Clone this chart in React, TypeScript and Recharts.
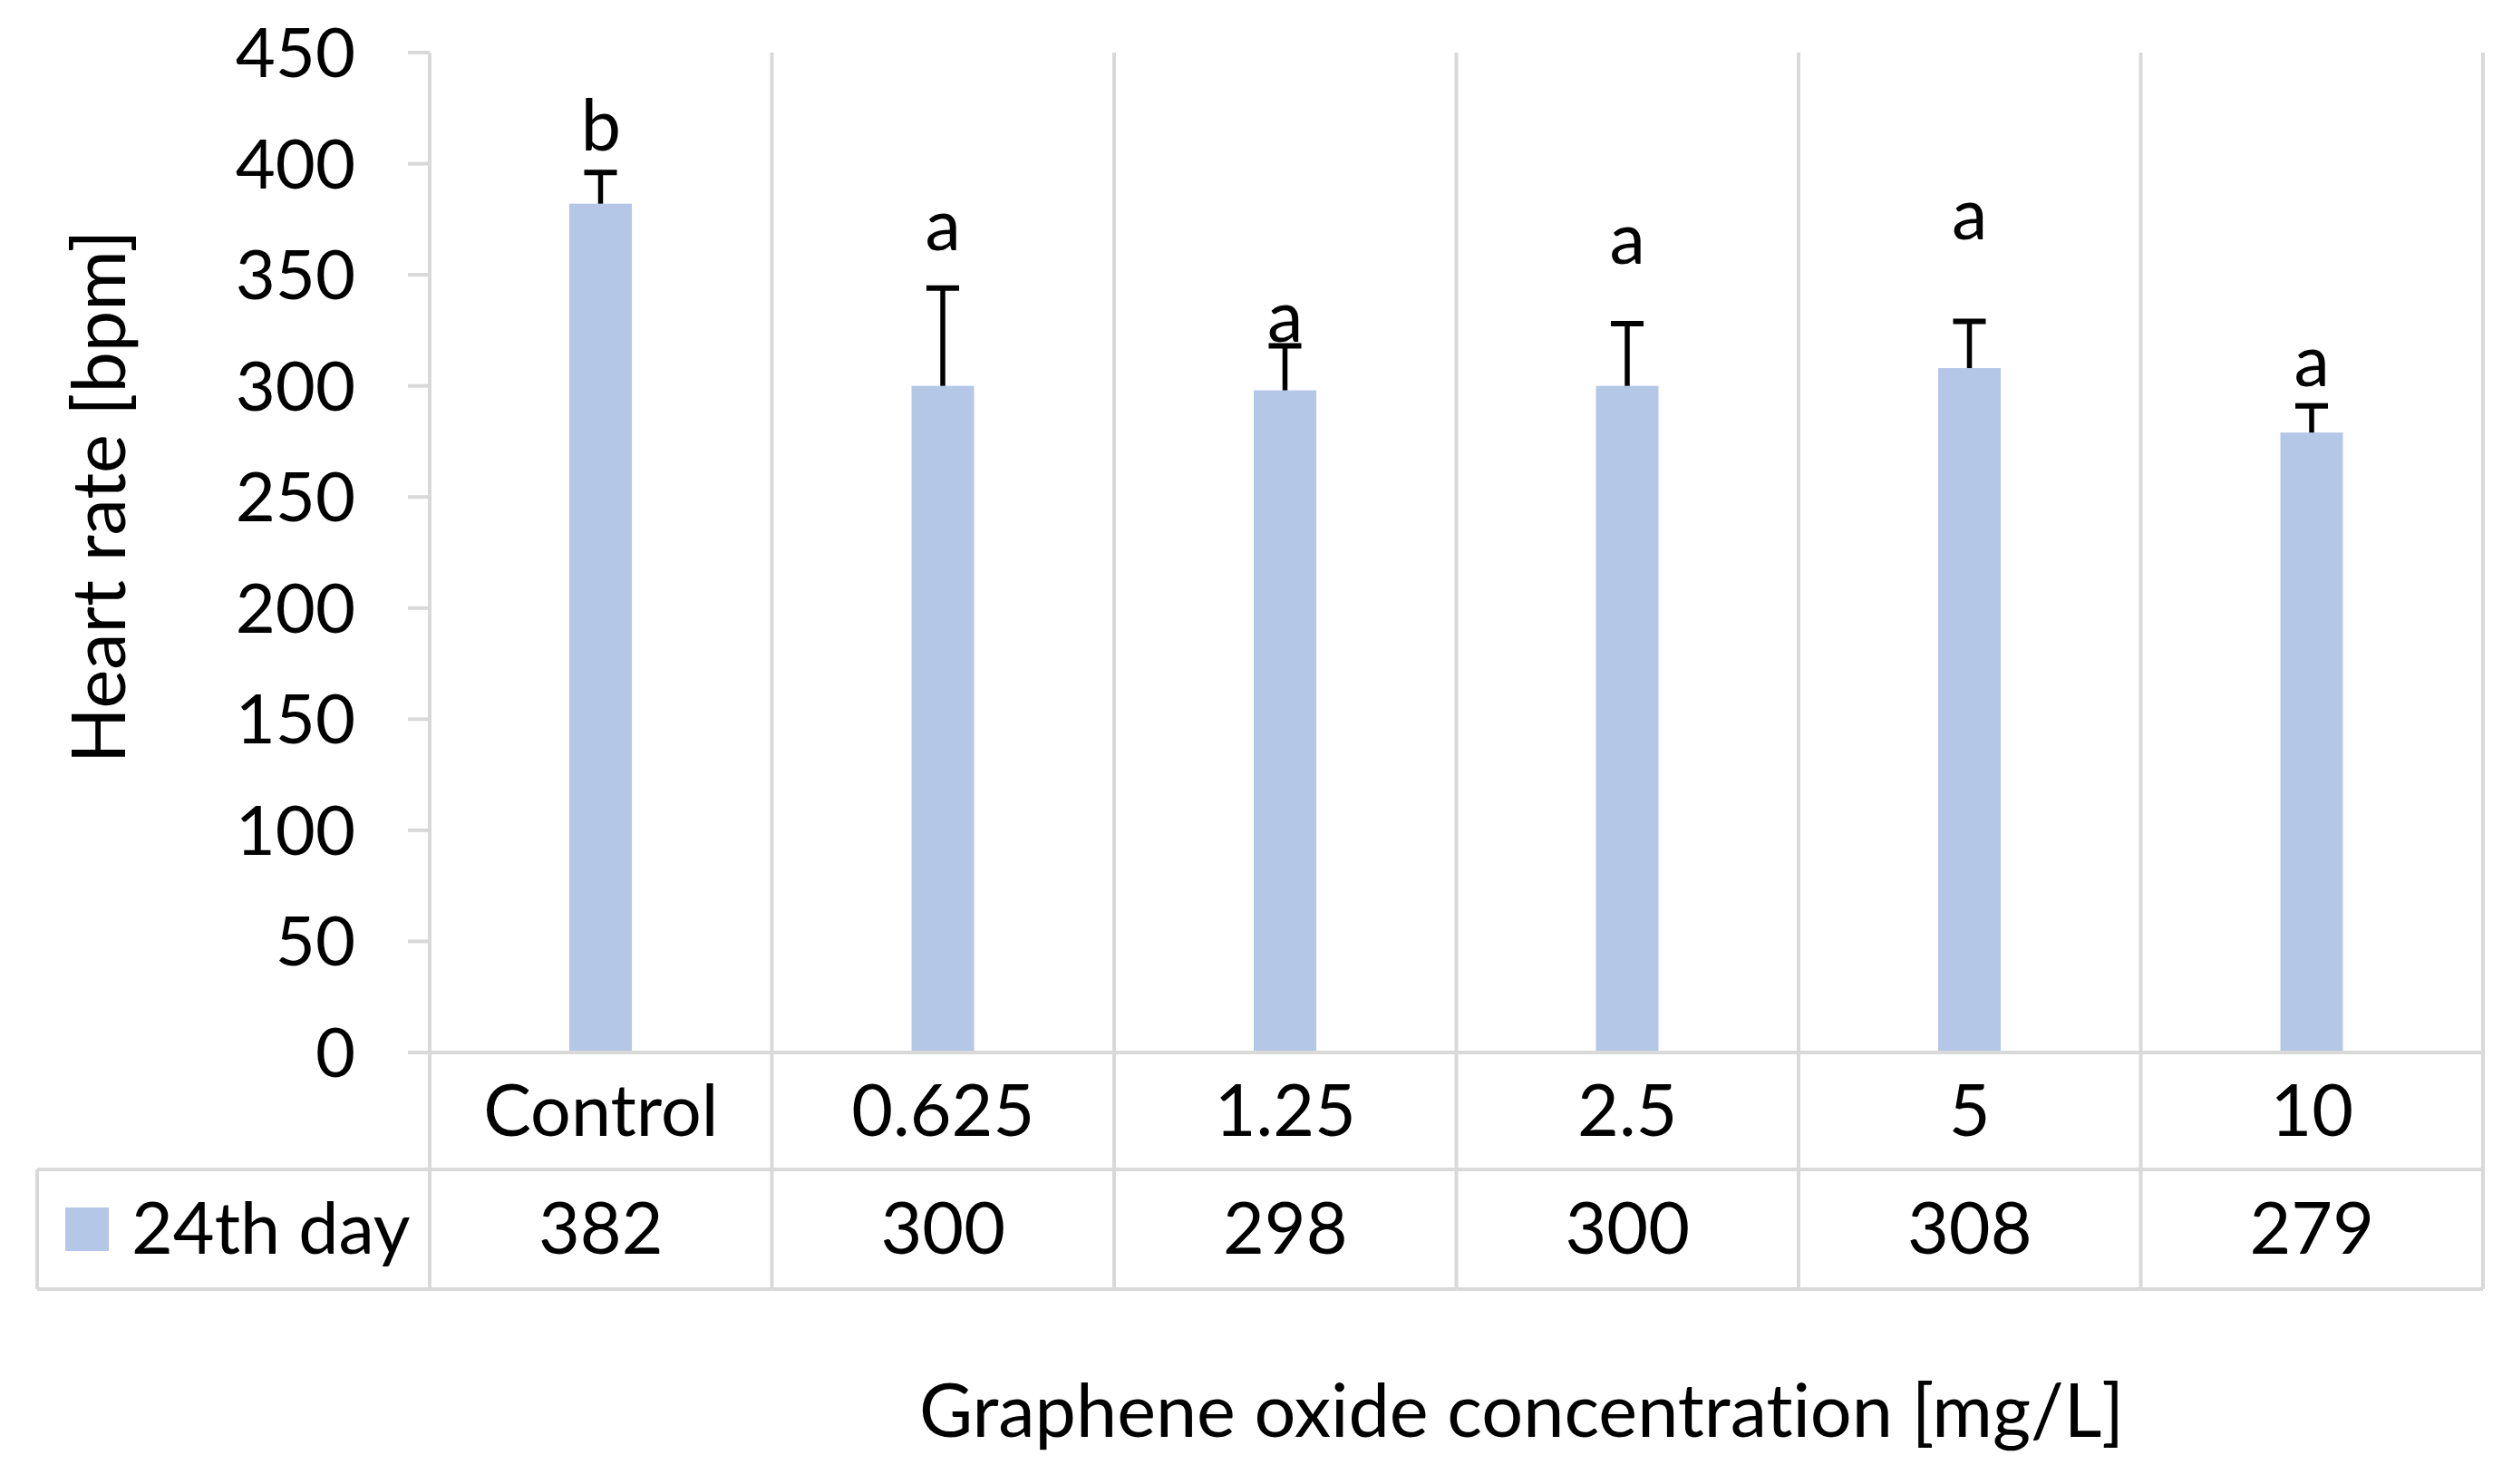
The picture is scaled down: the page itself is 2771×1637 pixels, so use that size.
import {
  Bar,
  CartesianGrid,
  ComposedChart,
  Label,
  LabelList,
  Line,
  XAxis,
  YAxis,
} from "recharts";

const categories = ["Control", "0.625", "1.25", "2.5", "5", "10"];
const heartRate = [382, 300, 298, 300, 308, 279];
const errorPlus = [14, 44, 20, 28, 21, 12];
const letters = ["b", "a", "a", "a", "a", "a"];
const letterLevel = [417, 372, 331, 366, 377, 311];
const yTicks = [0, 50, 100, 150, 200, 250, 300, 350, 400, 450];
const seriesName = "24th day";
const xTitle = "Graphene oxide concentration [mg/L]";
const yTitle = "Heart rate [bpm]";

const data = categories.map((category, i) => ({
  category,
  value: heartRate[i],
  err: errorPlus[i],
  letter: letters[i],
  letterAt: letterLevel[i],
}));

// layout (px, full size)
const W = 2771;
const H = 1637;
const Y_AXIS_W = 474;
const MARGIN = { top: 58, right: 32, left: 0, bottom: 0 };
const X_AXIS_H = 476;
const BAND = (W - Y_AXIS_W - MARGIN.right) / categories.length;
const ROW1 = 129;
const ROW2 = 132;
const TABLE_LEFT = 41;
const GRID = "#d9d9d9";
const BAR = "#b4c7e7";
const FONT = "Lato, Carlito, Calibri, sans-serif";
const FS = 76;
const FS_TABLE = 79;
const FS_TITLE = 81;
const BASE = 27; // baseline shift to centre cap height

function BarWithError(props: any) {
  const { x, y, width, height, payload } = props;
  const pxPerUnit = height / payload.value;
  const top = y - payload.err * pxPerUnit;
  const cx = x + width / 2;
  return (
    <g>
      <rect x={x} y={y} width={width} height={height} fill={BAR} />
      <line x1={cx} y1={y} x2={cx} y2={top} stroke="#000" strokeWidth={5.5} />
      <line x1={cx - 18} y1={top} x2={cx + 18} y2={top} stroke="#000" strokeWidth={6} />
    </g>
  );
}

function TableTick(props: any) {
  const { x, y, payload, index } = props;
  const left = x - BAND / 2;
  const right = x + BAND / 2;
  const r1 = y + ROW1;
  const r2 = y + ROW1 + ROW2;
  return (
    <g>
      <line x1={right} y1={y} x2={right} y2={r2} stroke={GRID} strokeWidth={4} />
      <line x1={left} y1={r1} x2={right} y2={r1} stroke={GRID} strokeWidth={4} />
      <line x1={left} y1={r2} x2={right} y2={r2} stroke={GRID} strokeWidth={4} />
      {index === 0 && (
        <g>
          <line x1={left} y1={y} x2={left} y2={r2} stroke={GRID} strokeWidth={4} />
          <line x1={TABLE_LEFT} y1={r1} x2={left} y2={r1} stroke={GRID} strokeWidth={4} />
          <line x1={TABLE_LEFT} y1={r2} x2={left} y2={r2} stroke={GRID} strokeWidth={4} />
          <line x1={TABLE_LEFT} y1={r1} x2={TABLE_LEFT} y2={r2} stroke={GRID} strokeWidth={4} />
          <rect x={72} y={r1 + ROW2 / 2 - 24} width={48} height={48} fill={BAR} />
          <text x={145} y={r1 + ROW2 / 2 + BASE} fontSize={FS_TABLE} fill="#000">
            {seriesName}
          </text>
        </g>
      )}
      <text x={x} y={y + ROW1 / 2 + BASE} textAnchor="middle" fontSize={FS_TABLE} fill="#000">
        {payload.value}
      </text>
      <text x={x} y={r1 + ROW2 / 2 + BASE} textAnchor="middle" fontSize={FS_TABLE} fill="#000">
        {heartRate[index]}
      </text>
    </g>
  );
}

export default function App() {
  return (
    <div
      style={{
        position: "absolute",
        left: 0,
        top: 0,
        width: W,
        height: H,
        background: "#fff",
        fontFamily: FONT,
        fontVariantLigatures: "none",
      }}
    >
      <ComposedChart width={W} height={H} data={data} margin={MARGIN}>
        <CartesianGrid
          horizontal={false}
          stroke={GRID}
          strokeWidth={4}
          verticalCoordinatesGenerator={({ offset }: any) =>
            categories.map((_, i) => offset.left + (i + 1) * (offset.width / categories.length))
          }
        />
        <XAxis
          dataKey="category"
          height={X_AXIS_H}
          interval={0}
          tickSize={0}
          tickMargin={0}
          tickLine={false}
          axisLine={{ stroke: GRID, strokeWidth: 4 }}
          tick={<TableTick />}
        >
          <Label
            content={({ viewBox }: any) => (
              <text
                x={viewBox.x + viewBox.width / 2 + 72}
                y={1558 + BASE}
                textAnchor="middle"
                fontSize={FS_TITLE}
                fill="#000"
              >
                {xTitle}
              </text>
            )}
          />
        </XAxis>
        <YAxis
          width={Y_AXIS_W}
          domain={[0, 450]}
          ticks={yTicks}
          interval={0}
          tickSize={24}
          tickMargin={58}
          tickLine={{ stroke: GRID, strokeWidth: 4 }}
          axisLine={{ stroke: GRID, strokeWidth: 4 }}
          tick={{ fill: "#000", fontSize: FS }}
        >
          <Label
            content={() => (
              <text
                x={106}
                y={548}
                transform="rotate(-90 106 548)"
                textAnchor="middle"
                dominantBaseline="central"
                fontSize={FS_TITLE}
                fill="#000"
              >
                {yTitle}
              </text>
            )}
          />
        </YAxis>
        <Bar
          dataKey="value"
          barSize={69}
          fill={BAR}
          shape={<BarWithError />}
          isAnimationActive={false}
        />
        <Line
          dataKey="letterAt"
          stroke="none"
          dot={false}
          activeDot={false}
          isAnimationActive={false}
        >
          <LabelList
            dataKey="letter"
            content={({ x, y, value }: any) => (
              <text x={x} y={y + BASE} textAnchor="middle" fontSize={FS_TABLE} fill="#000">
                {value}
              </text>
            )}
          />
        </Line>
      </ComposedChart>
    </div>
  );
}
